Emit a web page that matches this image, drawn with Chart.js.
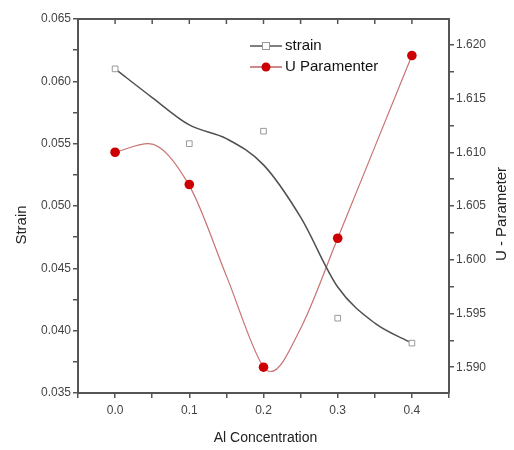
<!DOCTYPE html>
<html>
<head>
<meta charset="utf-8">
<script src="https://cdn.jsdelivr.net/npm/chart.js@4.4.1/dist/chart.umd.min.js"></script>
<style>
  html, body { margin: 0; padding: 0; background: #fff; }
  #wrap { width: 514px; height: 450px; }
</style>
</head>
<body>
<div id="wrap"><canvas id="chart" width="514" height="450"></canvas></div>
<script>
// measured points
const alConc = [0.0, 0.1, 0.2, 0.3, 0.4];
const strain = [0.061, 0.055, 0.056, 0.041, 0.039];
const uParam = [1.610, 1.607, 1.590, 1.602, 1.619];

// smoothed curves
const strainFitX = [0.0, 0.05, 0.1, 0.15, 0.2, 0.25, 0.3, 0.35, 0.4];
const strainFit = [0.061, 0.0587, 0.0565, 0.0554, 0.0533, 0.0491, 0.0435, 0.0406, 0.039];
const uFitX = [0.0, 0.045, 0.1, 0.15, 0.2, 0.21, 0.25, 0.3, 0.35, 0.4];
const uFit = [1.610, 1.6108, 1.6069, 1.5985, 1.590, 1.5896, 1.5936, 1.602, 1.6105, 1.619];

// tick labels
const xTicks = [0.0, 0.1, 0.2, 0.3, 0.4];
const xMinor = [-0.05, 0.05, 0.15, 0.25, 0.35, 0.45];
const strainTicks = [0.035, 0.040, 0.045, 0.050, 0.055, 0.060, 0.065];
const strainMinor = [0.0375, 0.0425, 0.0475, 0.0525, 0.0575, 0.0625];
const uTicks = [1.590, 1.595, 1.600, 1.605, 1.610, 1.615, 1.620];
const uMinor = [1.5875, 1.5925, 1.5975, 1.6025, 1.6075, 1.6125, 1.6175, 1.6225];

const FONT = '"Liberation Sans", Arial, sans-serif';
const AXIS = '#555';

function pairs(xs, ys) {
    return xs.map((x, i) => ({ x: x, y: ys[i] }));
}

function isMajor(list, v) {
    return list.some(t => Math.abs(t - v) < 1e-9);
}

function setTicks(major, minor) {
    return function(scale) {
        scale.ticks = major.concat(minor).sort((a, b) => a - b).map(v => ({ value: v }));
    };
}

const extras = {
    id: 'extras',
    afterDraw(chart) {
        const ctx = chart.ctx;
        const area = chart.chartArea;
        const x = chart.scales.x;

        // inward ticks on the top frame
        ctx.save();
        ctx.strokeStyle = AXIS;
        ctx.lineWidth = 1.5;
        xTicks.concat(xMinor).forEach(v => {
            const px = x.getPixelForValue(v);
            ctx.beginPath();
            ctx.moveTo(px, area.top);
            ctx.lineTo(px, area.top + 5);
            ctx.stroke();
        });
        ctx.restore();

        // axis titles
        ctx.save();
        ctx.fillStyle = '#222';
        ctx.textAlign = 'center';
        ctx.textBaseline = 'middle';
        ctx.font = '14px ' + FONT;
        ctx.fillText('Al Concentration', (area.left + area.right) / 2 + 2, 438);

        ctx.font = '15px ' + FONT;
        ctx.translate(22, 225);
        ctx.rotate(-Math.PI / 2);
        ctx.fillText('Strain', 0, 0);
        ctx.restore();

        ctx.save();
        ctx.fillStyle = '#222';
        ctx.textAlign = 'center';
        ctx.textBaseline = 'middle';
        ctx.font = '15px ' + FONT;
        ctx.translate(502, 214);
        ctx.rotate(-Math.PI / 2);
        ctx.fillText('U - Parameter', 0, 0);
        ctx.restore();

        // legend
        const lx = area.left + 172;
        const rows = [
            { y: area.top + 27, text: 'strain', line: '#555', kind: 'rect' },
            { y: area.top + 48, text: 'U Paramenter', line: '#c06060', kind: 'circle' }
        ];
        rows.forEach(r => {
            ctx.save();
            ctx.strokeStyle = r.line;
            ctx.lineWidth = 1.5;
            ctx.beginPath();
            ctx.moveTo(lx, r.y);
            ctx.lineTo(lx + 32, r.y);
            ctx.stroke();
            const cx = lx + 16;
            if (r.kind === 'rect') {
                ctx.fillStyle = '#fff';
                ctx.fillRect(cx - 3.5, r.y - 3.5, 7, 7);
                ctx.strokeStyle = '#999';
                ctx.lineWidth = 1;
                ctx.strokeRect(cx - 3.5, r.y - 3.5, 7, 7);
            } else {
                ctx.fillStyle = '#cc0000';
                ctx.beginPath();
                ctx.arc(cx, r.y, 4.5, 0, Math.PI * 2);
                ctx.fill();
            }
            ctx.fillStyle = '#111';
            ctx.font = '15px ' + FONT;
            ctx.textAlign = 'left';
            ctx.textBaseline = 'middle';
            ctx.fillText(r.text, lx + 35, r.y);
            ctx.restore();
        });
    }
};

const tickFont = { family: FONT, size: 12 };

new Chart(document.getElementById('chart').getContext('2d'), {
    type: 'scatter',
    data: {
        datasets: [
            {
                label: 'strain',
                data: pairs(alConc, strain),
                yAxisID: 'y',
                pointStyle: 'rect',
                pointRadius: 4,
                backgroundColor: '#fff',
                borderColor: '#999',
                borderWidth: 1,
                order: 0
            },
            {
                label: 'U Paramenter',
                data: pairs(alConc, uParam),
                yAxisID: 'y1',
                pointStyle: 'circle',
                pointRadius: 4.8,
                backgroundColor: '#cc0000',
                borderColor: '#cc0000',
                borderWidth: 0,
                order: 0
            },
            {
                label: 'strain fit',
                data: pairs(strainFitX, strainFit),
                yAxisID: 'y',
                showLine: true,
                cubicInterpolationMode: 'monotone',
                pointRadius: 0,
                borderColor: '#505050',
                borderWidth: 1.5,
                order: 1
            },
            {
                label: 'U fit',
                data: pairs(uFitX, uFit),
                yAxisID: 'y1',
                showLine: true,
                cubicInterpolationMode: 'monotone',
                pointRadius: 0,
                borderColor: '#c87272',
                borderWidth: 1.2,
                order: 1
            }
        ]
    },
    options: {
        responsive: false,
        animation: false,
        layout: { padding: 0 },
        plugins: {
            legend: { display: false },
            tooltip: { enabled: false }
        },
        scales: {
            x: {
                type: 'linear',
                position: 'bottom',
                min: -0.05,
                max: 0.45,
                afterBuildTicks: setTicks(xTicks, xMinor),
                afterFit: s => { s.height = 57; },
                ticks: {
                    font: tickFont,
                    color: '#444',
                    padding: 5,
                    maxRotation: 0,
                    autoSkip: false,
                    callback: v => isMajor(xTicks, v) ? v.toFixed(1) : ''
                },
                grid: { drawOnChartArea: false, tickLength: 5, color: AXIS, lineWidth: 1.5 },
                border: { color: AXIS, width: 2 }
            },
            x2: {
                type: 'linear',
                position: 'top',
                min: -0.05,
                max: 0.45,
                afterFit: s => { s.height = 19; },
                ticks: { display: false },
                grid: { display: false, drawTicks: false },
                border: { display: true, color: AXIS, width: 2 }
            },
            y: {
                type: 'linear',
                position: 'left',
                min: 0.035,
                max: 0.065,
                afterBuildTicks: setTicks(strainTicks, strainMinor),
                afterFit: s => { s.width = 78; },
                ticks: {
                    font: tickFont,
                    color: '#444',
                    padding: 2,
                    autoSkip: false,
                    callback: v => isMajor(strainTicks, v) ? v.toFixed(3) : ''
                },
                grid: { drawOnChartArea: false, tickLength: 5, color: AXIS, lineWidth: 1.5 },
                border: { color: AXIS, width: 2 }
            },
            y1: {
                type: 'linear',
                position: 'right',
                min: 1.5876,
                max: 1.6224,
                afterBuildTicks: setTicks(uTicks, uMinor.filter(v => v > 1.5876 && v < 1.6224)),
                afterFit: s => { s.width = 65; },
                ticks: {
                    font: tickFont,
                    color: '#444',
                    padding: 2,
                    autoSkip: false,
                    callback: v => isMajor(uTicks, v) ? v.toFixed(3) : ''
                },
                grid: { drawOnChartArea: false, tickLength: 5, color: AXIS, lineWidth: 1.5 },
                border: { color: AXIS, width: 2 }
            }
        }
    },
    plugins: [extras]
});
</script>
</body>
</html>
